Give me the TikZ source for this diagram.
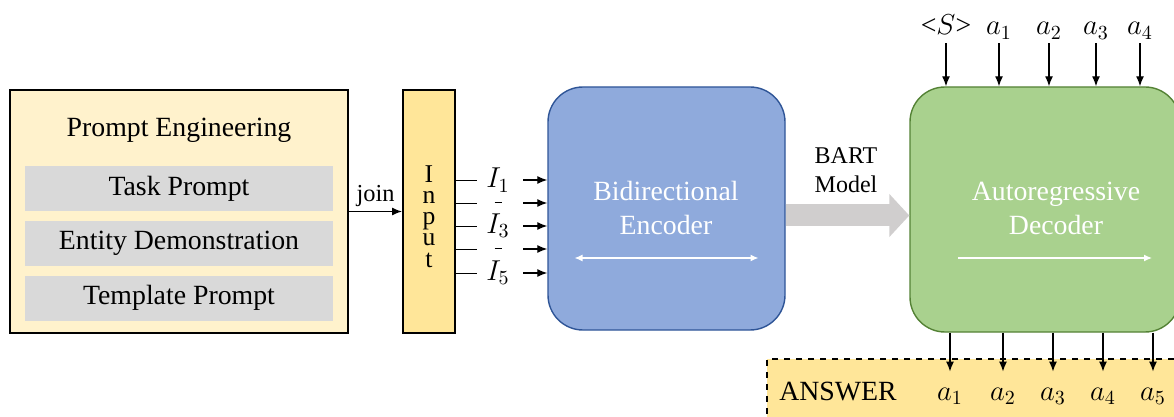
\documentclass[tikz,border=0pt]{standalone}
\usepackage{fontspec}
\setmainfont{Liberation Serif}
\usepackage{xcolor}
\usetikzlibrary{arrows.meta, positioning, calc}

\definecolor{promptfill}{HTML}{FFF2CC}
\definecolor{subfill}{HTML}{D9D9D9}
\definecolor{inputfill}{HTML}{FFE699}
\definecolor{encfill}{HTML}{8FAADC}
\definecolor{encdraw}{HTML}{2F5597}
\definecolor{decfill}{HTML}{A9D18E}
\definecolor{decdraw}{HTML}{548235}
\definecolor{bartgray}{HTML}{D0CECE}

\tikzset{
  mainfont/.style={font=\fontsize{13.9}{17}\selectfont},
  promptbox/.style={
    draw, line width=1pt, fill=promptfill, inner sep=0pt,
    minimum width=169pt, minimum height=121.5pt
  },
  subbox/.style={
    fill=subfill, inner sep=0pt, mainfont,
    minimum width=154pt, minimum height=22.5pt
  },
  inputbox/.style={
    draw, line width=1pt, fill=inputfill, inner sep=0pt,
    minimum width=26pt, minimum height=121.5pt
  },
  modelbox/.style={
    draw, line width=0.7pt, rounded corners=17.5pt, inner sep=0pt,
    minimum height=121.5pt
  },
  modeltext/.style={mainfont, text=white, align=center},
  answerbox/.style={
    draw, dashed, line width=0.7pt, fill=inputfill, inner sep=0pt,
    minimum width=206.5pt, minimum height=30.5pt
  },
  tokenlabel/.style={mainfont, inner sep=0pt, minimum width=21pt},
  toplabel/.style={mainfont, anchor=base, text depth=3pt, inner ysep=1pt},
  ansl/.style={mainfont, anchor=base, text height=13pt, inner ysep=1pt},
  flowarrow/.style={-{Latex[length=5pt,width=4pt]}, line width=0.65pt},
  whitearrow/.style={line width=0.6pt, white, {Latex[length=4pt,width=3.5pt]}-{Latex[length=4pt,width=3.5pt]}},
  whiteforward/.style={line width=0.6pt, white, -{Latex[length=4pt,width=3.5pt]}},
  bartarrow/.style={line width=11pt, bartgray, -{Triangle[length=10pt,width=21pt]}},
}
\newcommand{\gapbar}{\rule[-0.25pt]{3.5pt}{0.5pt}}

\begin{document}
\begin{tikzpicture}[x=0.5pt, y=-0.5pt]
  \clip (0,0) rectangle (1174,417);

  % Prompt engineering block
  \node[promptbox] (prompt) at (179,211.5) {};
  \node[mainfont] (ptitle) at (179,130) {Prompt Engineering};
  \node[subbox] (task) at (179,188.5) {Task Prompt};
  \node[subbox] (entity) at (179,243.5) {Entity Demonstration};
  \node[subbox] (tmpl) at (179,298) {Template Prompt};

  % Input column
  \node[inputbox] (inp) at (429,211.5) {};
  \node[font=\fontsize{12.8}{10.6}\selectfont, align=center, inner sep=0pt]
    (inptext) at (429,216.5) {I\\n\\p\\u\\t};

  \draw[flowarrow] (prompt.east) -- node[above, font=\fontsize{12.2}{14}\selectfont, inner sep=2pt] {join} (inp.west);

  % Encoder
  \node[modelbox, fill=encfill, draw=encdraw, minimum width=118.5pt]
    (enc) at (666.5,208.5) {};
  \node[modeltext] (enctext) at (666,208) {Bidirectional\\Encoder};
  \draw[whitearrow] ([xshift=-46pt,yshift=-24.75pt]enc.center)
    -- ([xshift=46pt,yshift=-24.75pt]enc.center);

  % Input tokens
  \node[tokenlabel] (i1) at (498,180) {$I_1$};
  \node[tokenlabel] (i2) at (498,203) {\gapbar};
  \node[tokenlabel] (i3) at (498,226) {$I_3$};
  \node[tokenlabel] (i4) at (498,249) {\gapbar};
  \node[tokenlabel] (i5) at (498,273) {$I_5$};
  \draw (inp.east |- i1) -- (i1.west);
  \draw (inp.east |- i2) -- (i2.west);
  \draw (inp.east |- i3) -- (i3.west);
  \draw (inp.east |- i4) -- (i4.west);
  \draw (inp.east |- i5) -- (i5.west);
  \draw[flowarrow] ([xshift=2pt]i1.east) -- (enc.west |- i1);
  \draw[flowarrow] ([xshift=2pt]i2.east) -- (enc.west |- i2);
  \draw[flowarrow] ([xshift=2pt]i3.east) -- (enc.west |- i3);
  \draw[flowarrow] ([xshift=2pt]i4.east) -- (enc.west |- i4);
  \draw[flowarrow] ([xshift=2pt]i5.east) -- (enc.west |- i5);

  % Decoder
  \node[modelbox, fill=decfill, draw=decdraw, minimum width=135pt, minimum height=122.5pt]
    (dec) at (1045,209.5) {};
  \node[modeltext] (dectext) at (1056,208) {Autoregressive\\Decoder};
  \draw[whiteforward] ([xshift=-43.5pt,yshift=-24.25pt]dec.center)
    -- ([xshift=53.5pt,yshift=-24.25pt]dec.center);

  % BART link
  \draw[bartarrow] ([yshift=-3.5pt]enc.east) -- ([yshift=-3.5pt]enc.east -| dec.west);
  \node[font=\fontsize{12}{14.5}\selectfont, align=center] (bart) at (846,170) {BART\\Model};

  % Decoder inputs
  \node[toplabel] (s0) at (946,35) {\textless$S$\textgreater};
  \node[toplabel] (s1) at (999,35) {$a_1$};
  \node[toplabel] (s2) at (1049,35) {$a_2$};
  \node[toplabel] (s3) at (1096,35) {$a_3$};
  \node[toplabel] (s4) at (1140,35) {$a_4$};
  \draw[flowarrow] (s0.south) -- (s0.south |- dec.north);
  \draw[flowarrow] (s1.south) -- (s1.south |- dec.north);
  \draw[flowarrow] (s2.south) -- (s2.south |- dec.north);
  \draw[flowarrow] (s3.south) -- (s3.south |- dec.north);
  \draw[flowarrow] (s4.south) -- (s4.south |- dec.north);

  % Answer strip
  \node[answerbox] (ans) at (973.5,389.5) {};
  \node[mainfont, anchor=base] (anstext) at (838,400) {ANSWER};
  \node[ansl] (o1) at (950,400) {$a_1$};
  \node[ansl] (o2) at (1003,400) {$a_2$};
  \node[ansl] (o3) at (1053,400) {$a_3$};
  \node[ansl] (o4) at (1103,400) {$a_4$};
  \node[ansl] (o5) at (1153,400) {$a_5$};
  \draw[flowarrow] (dec.south -| o1.north) -- (o1.north);
  \draw[flowarrow] (dec.south -| o2.north) -- (o2.north);
  \draw[flowarrow] (dec.south -| o3.north) -- (o3.north);
  \draw[flowarrow] (dec.south -| o4.north) -- (o4.north);
  \draw[flowarrow] (dec.south -| o5.north) -- (o5.north);
\end{tikzpicture}
\end{document}
